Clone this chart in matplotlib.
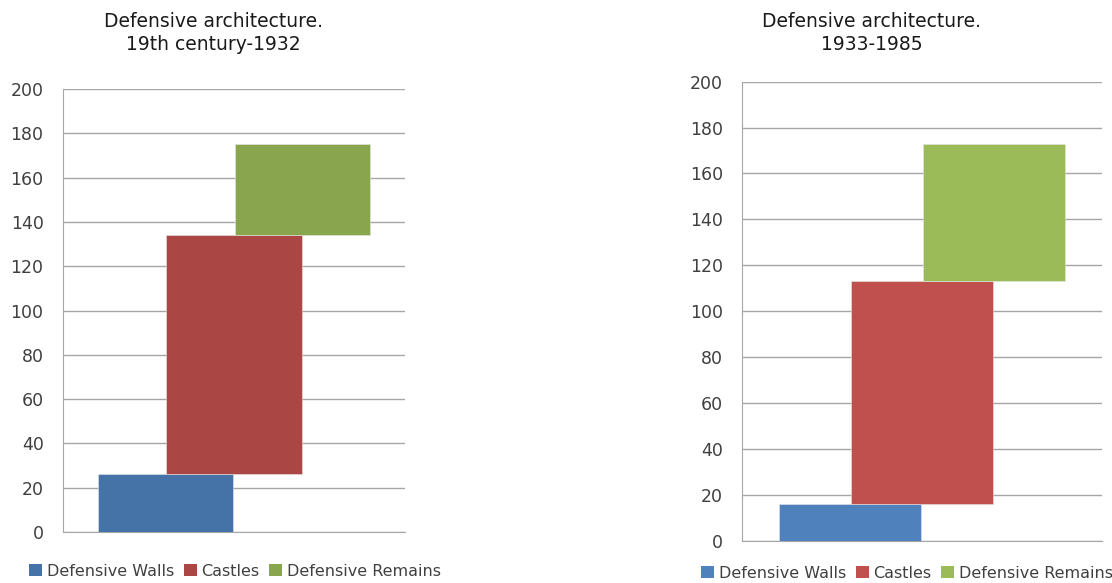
import matplotlib
matplotlib.use("Agg")
import matplotlib.pyplot as plt
from matplotlib.patches import Patch

categories = ["Defensive Walls", "Castles", "Defensive Remains"]
left_title = "Defensive architecture.\n19th century-1932"
right_title = "Defensive architecture.\n1933-1985"
left_values = [26, 108, 41]
right_values = [16, 97, 60]
left_colors = ["#4572A7", "#AA4643", "#89A54E"]
right_colors = ["#4F81BD", "#C0504D", "#9BBB59"]
yticks = [0, 20, 40, 60, 80, 100, 120, 140, 160, 180, 200]

plt.rcParams['font.family'] = ['DejaVu Sans']

fig = plt.figure(figsize=(11.12, 5.83), dpi=100)

def draw(rect, values, colors, title, title_x, title_y, leg_anchor):
    ax = fig.add_axes(rect)
    positions = [0.3, 0.5, 0.7]
    bottom = 0
    for pos, v, c in zip(positions, values, colors):
        ax.bar(pos, v, width=0.395, bottom=bottom, color=c, edgecolor="#e6e6e6",
               linewidth=0.4, zorder=3)
        bottom += v
    ax.set_xlim(0, 1)
    ax.set_ylim(0, 200)
    ax.set_yticks(yticks)
    ax.set_xticks([])
    ax.yaxis.grid(True, color="#a6a6a6", linewidth=1.0, zorder=0)
    for s in ["top", "right"]:
        ax.spines[s].set_visible(False)
    ax.spines["left"].set_color("#a6a6a6")
    ax.spines["bottom"].set_color("#a6a6a6")
    ax.tick_params(axis="y", length=0, pad=14, labelsize=12.5, labelcolor="#404040")
    fig.text(title_x, title_y, title, ha="center", va="top", fontsize=13.5,
             color="#1a1a1a", linespacing=1.3)
    handles = [Patch(facecolor=c, edgecolor="none") for c in colors]
    fig.legend(handles, categories, loc="center", bbox_to_anchor=leg_anchor,
               ncol=3, frameon=False, fontsize=11.5, handlelength=0.8,
               handleheight=0.8, handletextpad=0.3, columnspacing=0.6,
               labelcolor="#404040")
    return ax

draw([0.0567, 0.0875, 0.3075, 0.7598], left_values, left_colors, left_title,
     213/1112, 1 - 12/583, (235/1112, 1 - 571/583))
draw([0.6675, 0.0726, 0.3238, 0.7873], right_values, right_colors, right_title,
     872/1112, 1 - 12/583, (907/1112, 1 - 573/583))

fig.savefig("out.png", dpi=100)
